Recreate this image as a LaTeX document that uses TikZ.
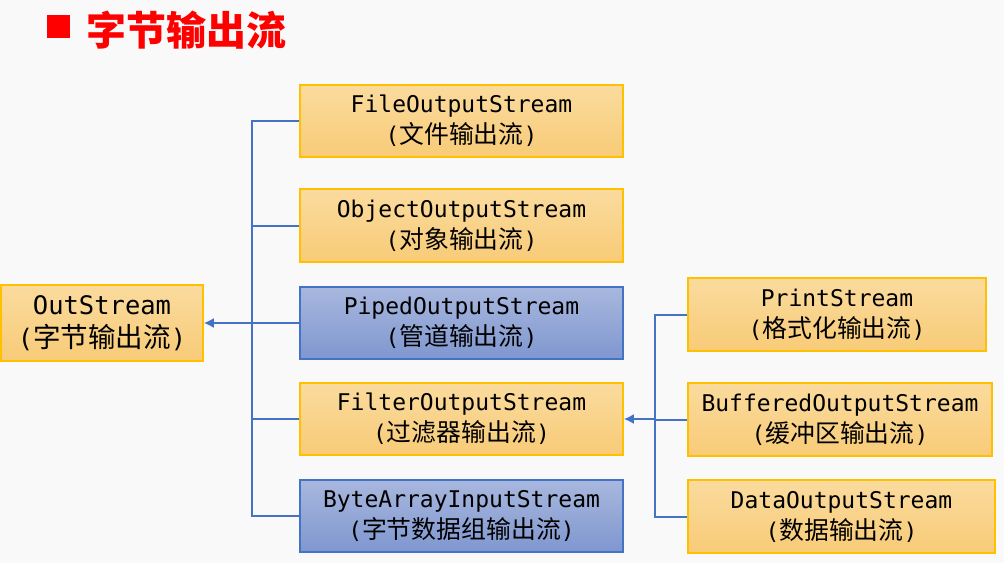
\documentclass[tikz,border=0pt]{standalone}
\usepackage{fontspec}
\setmonofont{DejaVu Sans Mono}
\newfontfamily\cjk[Scale=1.08]{Noto Sans CJK SC}
\usepackage{tikz}
\usetikzlibrary{arrows.meta,positioning}
\definecolor{slidebg}{HTML}{F9F9F9}
\definecolor{titlered}{HTML}{FF0000}
\definecolor{boxgold}{HTML}{FFC000}
\definecolor{orangetop}{HTML}{FADB9E}
\definecolor{orangebot}{HTML}{F8CB77}
\definecolor{bluetop}{HTML}{A8B7DE}
\definecolor{bluebot}{HTML}{7F97CF}
\definecolor{linkblue}{HTML}{4472C4}
\tikzset{
  streambox/.style={align=center,inner sep=0pt,minimum height=72pt,font=\ttfamily\fontsize{23}{31}\selectfont,text=black,line width=1.5pt},
  orangebox/.style={streambox,draw=boxgold,top color=orangetop,bottom color=orangebot},
  bluebox/.style={streambox,draw=linkblue,top color=bluetop,bottom color=bluebot},
  treeline/.style={draw=linkblue,line width=2pt},
  flow/.style={treeline,-{Latex[length=10pt,width=10pt]}},
}
\newcommand{\cn}[1]{({\cjk #1})}

\begin{document}
\begin{tikzpicture}[x=1pt,y=-1pt]
    \fill[slidebg] (0,0) rectangle (1004,563);
    \useasboundingbox (0,0) rectangle (1004,563);
    % title
    \node[fill=titlered,minimum size=23pt,inner sep=0pt] (bullet) at (58.5,26.5) {};
    \node[anchor=west,inner sep=0pt,text=titlered,font=\cjk\bfseries\fontsize{37}{40}\selectfont] (title) at (86,30) {字节输出流};
    % boxes
    \node[orangebox,minimum width=202pt,minimum height=76pt,font=\ttfamily\fontsize{25.5}{33}\selectfont] (out) at (102,323) {OutStream\\\cn{字节输出流}};
    \node[orangebox,minimum width=323pt] (file) at (461.5,121) {FileOutputStream\\\cn{文件输出流}};
    \node[orangebox,minimum width=323pt,minimum height=73pt] (object) at (461.5,225.5) {ObjectOutputStream\\\cn{对象输出流}};
    \node[bluebox,minimum width=323pt] (piped) at (461.5,323) {PipedOutputStream\\\cn{管道输出流}};
    \node[orangebox,minimum width=323pt] (filter) at (461.5,419) {FilterOutputStream\\\cn{过滤器输出流}};
    \node[bluebox,minimum width=323pt] (bytearray) at (461.5,516) {ByteArrayInputStream\\\cn{字节数据组输出流}};
    \node[orangebox,minimum width=298pt,minimum height=73pt] (print) at (837,314.5) {PrintStream\\\cn{格式化输出流}};
    \node[orangebox,minimum width=304pt,minimum height=73pt] (buffered) at (840,419.5) {BufferedOutputStream\\\cn{缓冲区输出流}};
    \node[orangebox,minimum width=307pt,minimum height=73pt] (data) at (841.5,516.5) {DataOutputStream\\\cn{数据输出流}};
    % trunks
    \coordinate (trunkL) at (252,0);
    \coordinate (trunkR) at (655,0);
    \draw[treeline] (file.west) -| (trunkL |- bytearray.west) -- (bytearray.west);
    \draw[treeline] (object.west) -- (object.west -| trunkL);
    \draw[treeline] (piped.west) -- (piped.west -| trunkL);
    \draw[treeline] (filter.west) -- (filter.west -| trunkL);
    \draw[flow] (trunkL |- out.east) -- (out.east);
    \draw[treeline] (print.west) -| (trunkR |- data.west) -- (data.west);
    \draw[treeline] (buffered.west) -- (buffered.west -| trunkR);
    \draw[flow] (trunkR |- filter.east) -- (filter.east);
  \end{tikzpicture}
\end{document}
